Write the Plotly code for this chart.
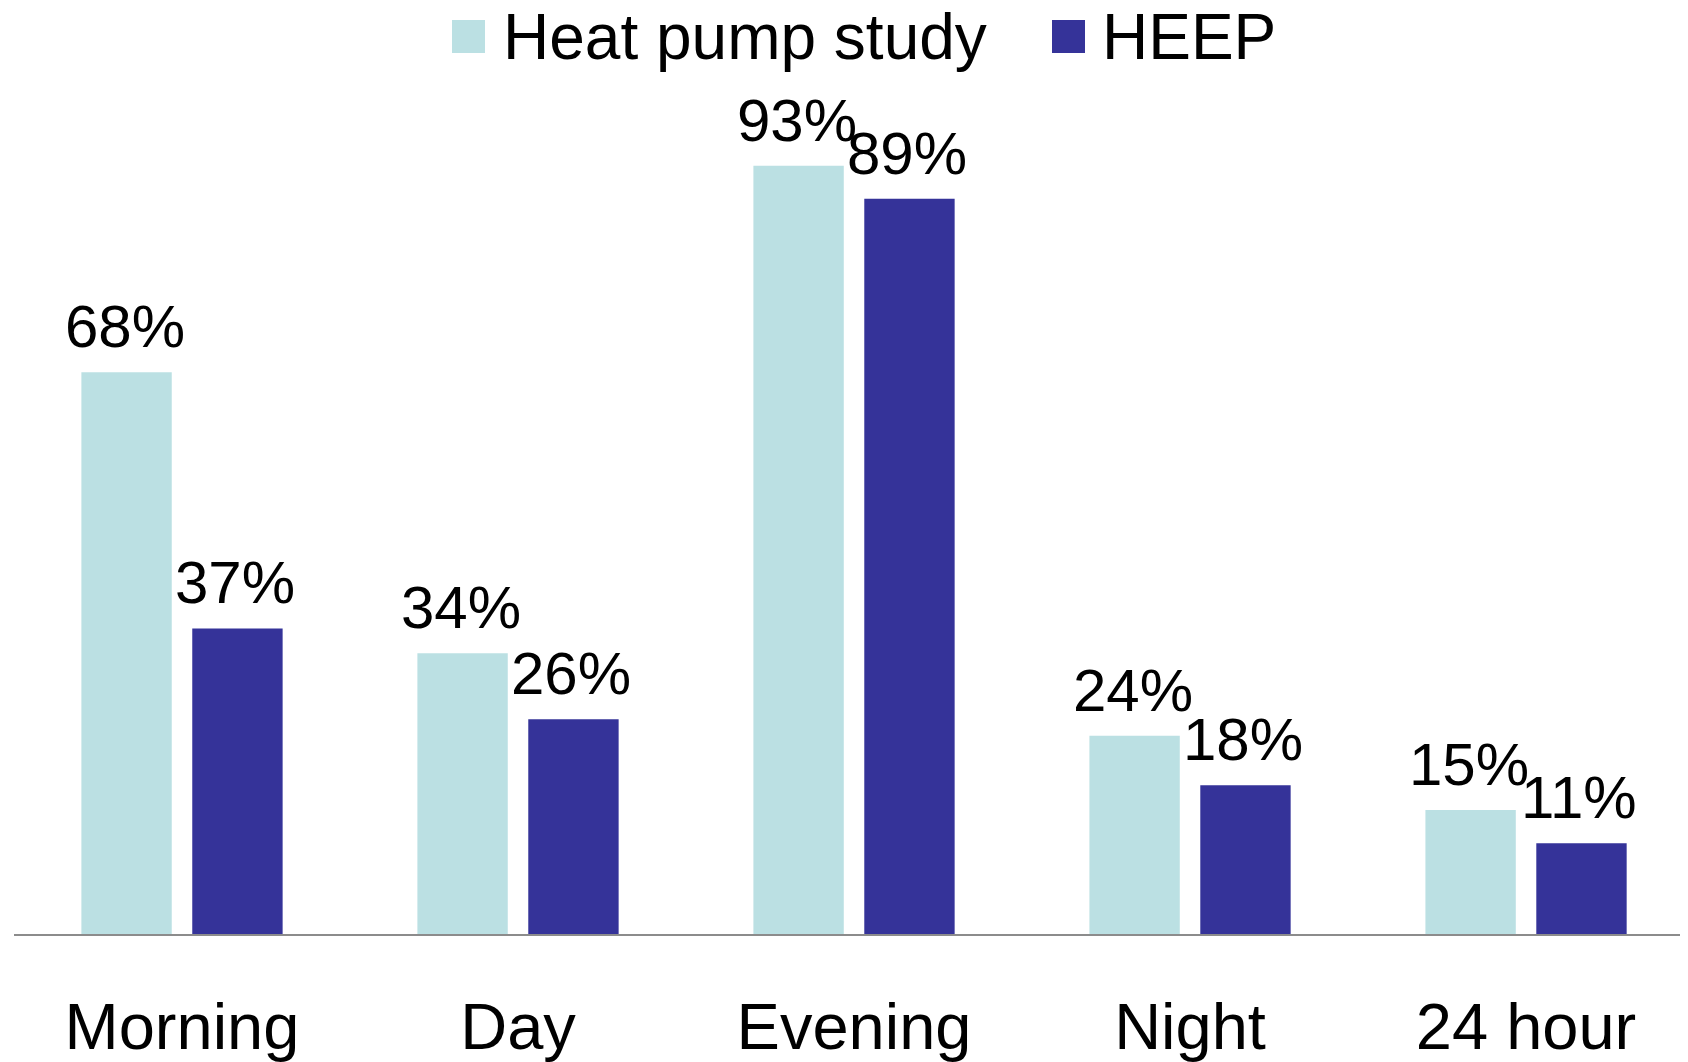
import plotly.graph_objects as go

categories = ["Morning", "Day", "Evening", "Night", "24 hour"]
heat_pump_study = [68, 34, 93, 24, 15]
heep = [37, 26, 89, 18, 11]
series_names = ["Heat pump study", "HEEP"]
colors = ["#BBE0E3", "#353399"]

# page body has an 8px margin, so the figure is offset by 8px
OFF = 8
W, H = 1688 - OFF, 1062 - OFF
ML, MR, MT, MB = 14 - OFF, 0, 108 - OFF, 128
PW, PH = W - ML - MR, H - MT - MB
FONT = "Liberation Sans, Arial, Helvetica, sans-serif"


def px_x(px):
    # px in window coordinates
    return (px - OFF - ML) / PW


def px_y(py):
    return (H - MB - (py - OFF)) / PH


fig = go.Figure()
for name, vals, col in zip(series_names, [heat_pump_study, heep], colors):
    fig.add_trace(go.Bar(x=categories, y=vals, name=name, marker_color=col,
                         marker_line_width=0, showlegend=False, hoverinfo="x+y"))

# data labels
slot_px = 110.9
for vals, sh in zip([heat_pump_study, heep], [-slot_px / 2, slot_px / 2]):
    for c, v in zip(categories, vals):
        fig.add_annotation(x=c, y=v, xref="x", yref="y", text=f"{v}%",
                           showarrow=False, xanchor="center", yanchor="bottom",
                           xshift=sh - 2, yshift=10,
                           font=dict(family=FONT, size=60, color="#000000"))

# manual legend
legend_items = [(452, 501, series_names[0], colors[0]), (1052, 1100, series_names[1], colors[1])]
for sx, tx, name, col in legend_items:
    fig.add_shape(type="rect", xref="paper", yref="paper",
                  x0=px_x(sx), x1=px_x(sx + 33), y0=px_y(53), y1=px_y(20),
                  fillcolor=col, line_width=0)
    fig.add_annotation(x=px_x(tx), y=px_y(37), xref="paper", yref="paper", text=name,
                       showarrow=False, xanchor="left", yanchor="middle",
                       font=dict(family=FONT, size=64, color="#000000"))

fig.update_layout(
    width=W, height=H,
    margin=dict(l=ML, r=MR, t=MT, b=MB, autoexpand=False),
    paper_bgcolor="white", plot_bgcolor="white",
    barmode="group", bargap=0.34, bargroupgap=0.185,
    font=dict(family=FONT, color="#000000"),
    showlegend=False,
)
fig.update_xaxes(range=[-0.5, 4.482], showline=True, linecolor="#8C8C8C", linewidth=2,
                 showgrid=False, zeroline=False, ticks="", ticklabelstandoff=35,
                 tickfont=dict(family=FONT, size=65, color="#000000"))
fig.update_yaxes(range=[0, 100], visible=False, showgrid=False, zeroline=False)

fig.write_html("out.html")
